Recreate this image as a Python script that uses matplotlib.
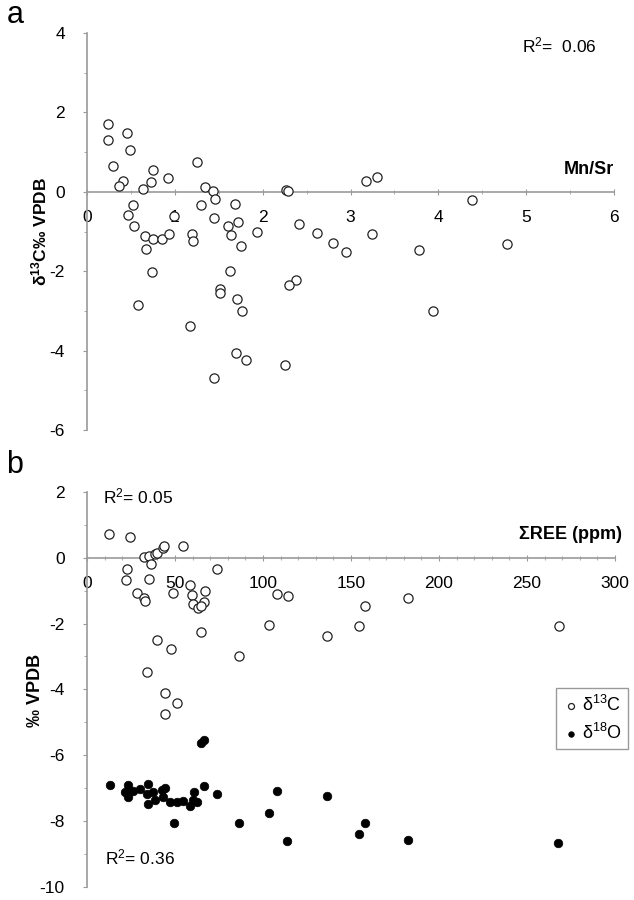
import numpy as np
import matplotlib
matplotlib.use('Agg')
import matplotlib.pyplot as plt
from matplotlib.ticker import MultipleLocator

plt.rcParams['font.family'] = ['Liberation Sans', 'DejaVu Sans']
plt.rcParams['axes.unicode_minus'] = False
plt.rcParams['mathtext.fontset'] = 'custom'
plt.rcParams['mathtext.rm'] = 'Liberation Sans'
plt.rcParams['mathtext.it'] = 'Liberation Sans:italic'
plt.rcParams['mathtext.bf'] = 'Liberation Sans:bold'

# panel a: Mn/Sr vs d13C
mnsr = [0.24, 0.24, 0.46, 0.49, 0.30, 0.75, 0.41, 0.365, 0.73, 0.92, 0.64, 1.25,
        1.34, 1.43, 1.46, 1.30, 1.68, 0.52, 0.47, 0.99, 1.45, 0.53, 1.61, 1.72,
        1.64, 0.66, 0.75, 0.85, 0.93, 1.19, 1.21, 0.67, 1.75, 1.93, 2.27, 2.29,
        2.41, 2.62, 2.80, 2.95, 3.18, 3.30, 3.25, 0.74, 1.63, 2.38, 2.30, 1.51,
        1.51, 1.71, 1.77, 0.585, 1.17, 1.70, 1.81, 2.25, 1.45, 4.38, 3.78, 4.78,
        3.94]
d13c_a = [1.72, 1.31, 1.47, 1.06, 0.64, 0.55, 0.28, 0.15, 0.24, 0.36, 0.07, 0.75,
          0.13, 0.03, -0.18, -0.33, -0.30, -0.34, -0.58, -0.60, -0.66, -0.87, -0.87, -0.75,
          -1.10, -1.11, -1.19, -1.19, -1.06, -1.06, -1.23, -1.44, -1.37, -1.01, 0.05, 0.03,
          -0.80, -1.04, -1.29, -1.52, 0.27, 0.37, -1.06, -2.03, -2.00, -2.21, -2.36, -2.45,
          -2.55, -2.71, -2.99, -2.85, -3.39, -4.06, -4.23, -4.37, -4.70, -0.20, -1.47, -1.31,
          -3.01]

# panel b: sum REE vs d13C and d18O
ree_c = [12.7, 24.5, 32.4, 35.4, 38.7, 40.0, 43.0, 43.8, 36.2, 54.4, 22.6, 22.2,
         35.4, 73.8, 28.6, 32.4, 33.0, 48.7, 58.6, 59.6, 67.1, 66.6, 60.5, 63.3,
         64.7, 107.9, 114.2, 103.5, 64.7, 40.0, 47.6, 136.3, 154.3, 158.1, 86.6, 182.2,
         268.1, 34.3, 44.4, 51.2, 44.4]
d13c_b = [0.73, 0.63, 0.02, 0.06, 0.12, 0.16, 0.30, 0.37, -0.18, 0.37, -0.34, -0.69,
          -0.65, -0.34, -1.06, -1.23, -1.30, -1.06, -0.82, -1.13, -1.02, -1.33, -1.40, -1.53,
          -1.46, -1.10, -1.15, -2.04, -2.27, -2.49, -2.78, -2.39, -2.06, -1.48, -3.00, -1.23,
          -2.07, -3.46, -4.12, -4.42, -4.75]

ree_o = [13.1, 23.5, 21.6, 23.5, 26.3, 30.1, 34.9, 34.0, 34.9, 37.7, 38.7, 42.5,
         44.4, 43.4, 47.2, 51.0, 54.8, 58.6, 61.0, 62.4, 60.3, 66.6, 73.8, 64.8,
         66.2, 49.5, 86.6, 107.9, 103.5, 113.9, 136.3, 158.1, 154.3, 182.2, 267.7]
d18o_b = [-6.91, -6.91, -7.11, -7.26, -7.09, -7.04, -6.89, -7.19, -7.49, -7.11, -7.36, -7.06,
          -7.01, -7.26, -7.41, -7.43, -7.39, -7.56, -7.11, -7.41, -7.36, -6.93, -7.19, -5.64,
          -5.54, -8.07, -8.05, -7.09, -7.75, -8.60, -7.23, -8.07, -8.40, -8.58, -8.68]

W, H = 634, 900
fig = plt.figure(figsize=(W / 100, H / 100), dpi=100)
axcol = '#9a9a9a'


def style(ax):
    ax.spines['top'].set_visible(False)
    ax.spines['right'].set_visible(False)
    ax.spines['bottom'].set_position(('data', 0))
    for s in ('left', 'bottom'):
        ax.spines[s].set_color(axcol)
        ax.spines[s].set_linewidth(1.2)
    ax.tick_params(axis='x', which='both', direction='inout', length=4, color=axcol,
                   pad=11, labelsize=12.5)
    ax.tick_params(axis='y', which='both', direction='out', length=3, color=axcol,
                   pad=13, labelsize=12.5)
    ax.tick_params(which='minor', length=2.5)


# ---- panel a
ax1 = fig.add_axes([87 / W, 1 - 430 / H, (614 - 87) / W, (430 - 33) / H])
ax1.scatter(mnsr, d13c_a, s=44, facecolors='white', edgecolors='#222222', linewidths=0.9,
            zorder=3, clip_on=False)
ax1.set_xlim(0, 6)
ax1.set_ylim(-6, 4)
ax1.xaxis.set_major_locator(MultipleLocator(1))
ax1.xaxis.set_minor_locator(MultipleLocator(0.5))
ax1.yaxis.set_major_locator(MultipleLocator(2))
ax1.yaxis.set_minor_locator(MultipleLocator(1))
style(ax1)
ax1.text(6.0, 0.35, 'Mn/Sr', ha='right', va='bottom', fontsize=13, fontweight='bold')
ax1.text(4.95, 3.69, 'R$^2$=  0.06', ha='left', va='center', fontsize=12.5)

# ---- panel b
ax2 = fig.add_axes([87 / W, 1 - 886.7 / H, (615 - 87) / W, (886.7 - 492) / H])
ax2.scatter(ree_c, d13c_b, s=44, facecolors='white', edgecolors='#222222', linewidths=0.9,
            zorder=3, label='δ$^{13}$C', clip_on=False)
ax2.scatter(ree_o, d18o_b, s=38, facecolors='black', edgecolors='black', linewidths=0.5,
            zorder=3, label='δ$^{18}$O', clip_on=False)
ax2.set_xlim(0, 300)
ax2.set_ylim(-10, 2)
ax2.xaxis.set_major_locator(MultipleLocator(50))
ax2.xaxis.set_minor_locator(MultipleLocator(10))
ax2.yaxis.set_major_locator(MultipleLocator(2))
ax2.yaxis.set_minor_locator(MultipleLocator(1))
style(ax2)
ax2.text(304, 0.45, 'ΣREE (ppm)', ha='right', va='bottom', fontsize=13, fontweight='bold')
ax2.text(9, 1.86, 'R$^2$= 0.05', ha='left', va='center', fontsize=12.5)
ax2.text(10, -9.1, 'R$^2$= 0.36', ha='left', va='center', fontsize=12.5)
leg = ax2.legend(loc='upper left', bbox_to_anchor=(0.888, 0.503), fontsize=13,
                 fancybox=False, edgecolor=axcol, handletextpad=0.1, handlelength=1.0,
                 borderpad=0.35, borderaxespad=0, labelspacing=0.45, markerscale=0.65,
                 framealpha=1)
leg.get_frame().set_linewidth(1.0)

# axis titles and panel letters
fig.text(39 / W, 1 - 232 / H, r'δ$^{\mathbf{13}}$C‰ VPDB', rotation=90, ha='center',
         va='center', fontsize=12.5, fontweight='bold')
fig.text(35 / W, 1 - 690 / H, '‰ VPDB', rotation=90, ha='center', va='center',
         fontsize=13, fontweight='bold')
fig.text(15 / W, 1 - 15 / H, 'a', ha='center', va='center', fontsize=22)
fig.text(15 / W, 1 - 465 / H, 'b', ha='center', va='center', fontsize=22)

fig.savefig('out.png', dpi=100)
